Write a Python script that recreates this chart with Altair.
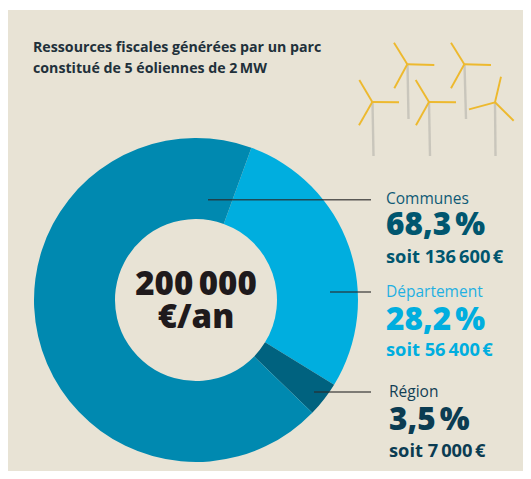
import math
import altair as alt
import pandas as pd

# --- chart values
categories = ["Département", "Région", "Communes"]
shares = [28.2, 3.5, 68.3]
share_labels = ["28,2\u202f%", "3,5\u202f%", "68,3\u202f%"]
amount_labels = ["soit 56\u2009400\u202f€", "soit 7\u2009000\u202f€", "soit 136\u2009600\u202f€"]
total_lines = ["200\u2009000", "€/an"]
title_lines = ["Ressources fiscales générées par un parc", "constitué de 5 éoliennes de 2\u2009MW"]

# --- palette
BG = "#E8E3D5"
slice_colors = ["#00AEDF", "#00627F", "#0089B0"]
text_colors = ["#1FB0E2", "#123F55", "#0F5A75"]
big_colors = ["#00AEDF", "#0B3C52", "#00566F"]
DARK = "#1F1A1C"
TITLE = "#21303A"
FONT = "Open Sans"

# --- layout (pixels in the 531x479 window)
W, H = 515, 461
OX, OY = 8, 10
CX, CY, R_OUT, R_IN = 196, 300, 162, 81
START = math.radians(20)

xs = alt.Scale(domain=[OX, OX + W], range=[0, W])
ys = alt.Scale(domain=[OY, OY + H], range=[0, H])

layers = []

# donut
donut = pd.DataFrame({"cat": categories, "v": shares, "o": [0, 1, 2], "c": slice_colors})
layers.append(
    alt.Chart(donut).mark_arc(outerRadius=R_OUT, innerRadius=R_IN).encode(
        theta=alt.Theta("v:Q", stack=True, scale=alt.Scale(domain=[0, 100], range=[START, START + 2 * math.pi])),
        order=alt.Order("o:Q"),
        color=alt.Color("c:N", scale=None, legend=None),
        x=alt.value(CX - OX),
        y=alt.value(CY - OY),
    )
)

# leader lines
leader_df = pd.DataFrame({"x": [330, 314, 208], "x2": [371, 371, 371], "y": [292, 392, 199.7]})
layers.append(
    alt.Chart(leader_df).mark_rule(color="#2A2A2A", strokeWidth=1.6, opacity=0.75).encode(
        x=alt.X("x:Q", scale=xs, axis=None),
        x2="x2:Q",
        y=alt.Y("y:Q", scale=ys, axis=None),
    )
)

# turbines: (x, y, x2, y2)
towers = [(407.5, 64, 408.5, 119), (464.5, 64, 466, 119), (372.5, 102, 373.5, 156),
          (429, 102, 430, 156), (495, 102, 495.5, 156)]
blades = [
    (407.3, 64.3, 394, 42.7), (407.3, 64.3, 434.3, 65), (407.3, 64.3, 394.3, 88.3),
    (464.3, 64.3, 451, 42.7), (464.3, 64.3, 491, 65), (464.3, 64.3, 451, 88.3),
    (372.3, 102, 359.3, 80), (372.3, 102, 399, 102.3), (372.3, 102, 359, 125.3),
    (429, 102, 415.7, 80), (429, 102, 456, 102.3), (429, 102, 416, 125.3),
    (495, 102.3, 501, 76.7), (495, 102.3, 469, 109.3), (495, 102.3, 513.7, 120.7),
]
for segs, col, sw in ((towers, "#C9C6BC", 2.4), (blades, "#EDB92E", 1.9)):
    df = pd.DataFrame(segs, columns=["x", "y", "x2", "y2"])
    layers.append(
        alt.Chart(df).mark_rule(color=col, strokeWidth=sw).encode(
            x=alt.X("x:Q", scale=xs, axis=None),
            y=alt.Y("y:Q", scale=ys, axis=None),
            x2="x2:Q",
            y2="y2:Q",
        )
    )


def label(text, x, y, size, color, weight="bold", align="left"):
    return alt.Chart(pd.DataFrame({"t": [text]})).mark_text(
        font=FONT, fontSize=size, fontWeight=weight, color=color, align=align, baseline="alphabetic"
    ).encode(text="t:N", x=alt.value(x - OX), y=alt.value(y - OY))


# title
layers.append(label(title_lines[0], 33, 52, 14.2, TITLE, 700))
layers.append(label(title_lines[1], 33, 73, 14.2, TITLE, 700))

# centre
layers.append(label(total_lines[0], CX, 295, 33, DARK, 800, "center"))
layers.append(label(total_lines[1], CX, 328, 33, DARK, 800, "center"))

# side labels
rows = {"Département": (386, 297, 330, 356), "Région": (389, 397, 430, 457), "Communes": (386, 204, 235, 263)}
for i, cat in enumerate(categories):
    x, y1, y2, y3 = rows[cat]
    layers.append(label(cat, x, y1, 15.5, text_colors[i], 400))
    layers.append(label(share_labels[i], x, y2, 31.5, big_colors[i], 800))
    layers.append(label(amount_labels[i], x, y3, 18.3, big_colors[i], 700))

chart = alt.layer(*layers).properties(
    width=W,
    height=H,
    padding={"left": 0, "right": 0, "top": 2, "bottom": 0},
    background="white",
).configure_view(fill=BG, stroke=None)

chart.save("out.html", embed_options={"renderer": "svg", "actions": False})
